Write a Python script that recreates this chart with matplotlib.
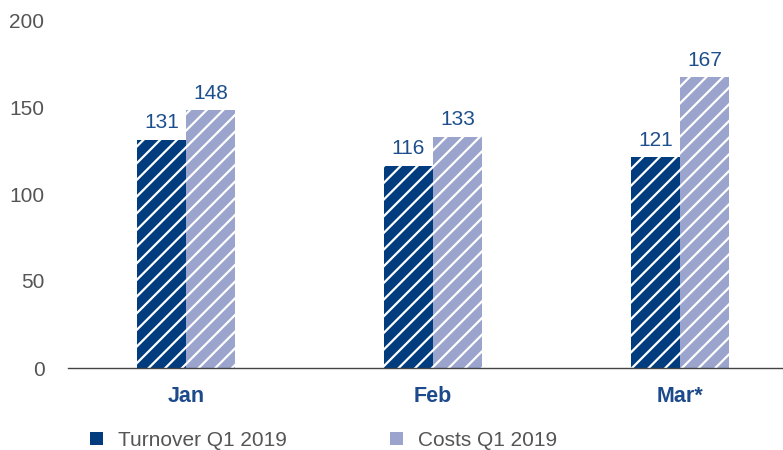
import numpy as np
import matplotlib
matplotlib.use("Agg")
import matplotlib.pyplot as plt
from matplotlib.patches import Patch

months   = ["Jan", "Feb", "Mar*"]
turnover = [131, 116, 121]
costs    = [148, 133, 167]
series_names = ["Turnover Q1 2019", "Costs Q1 2019"]

dark  = "#003c7e"
light = "#9aa4cc"
grey  = "#555555"

plt.rcParams["font.family"] = ["Liberation Sans", "DejaVu Sans"]
plt.rcParams["hatch.linewidth"] = 1.6
plt.rcParams["hatch.color"] = "white"

fig = plt.figure(figsize=(7.83, 4.5), dpi=100)
ax  = fig.add_axes([68/783., (450-368)/450., 1-68/783., (368-20)/450.])

x = np.arange(len(months))
w = 0.2

b1 = ax.bar(x - w/2, turnover, w, color=dark, hatch="//", edgecolor="white", linewidth=0)
b2 = ax.bar(x + w/2, costs, w, color=light, hatch="//", edgecolor="white", linewidth=0)

for bars, vals in ((b1, turnover), (b2, costs)):
	for r, v in zip(bars, vals):
		ax.text(r.get_x() + r.get_width()/2, v + 4.5, str(v), ha="center", va="bottom",
				fontsize=15, color="#1d4f8c")

ax.set_xlim(-0.478, 2.417)
ax.set_ylim(0, 200)
ax.set_yticks([0, 50, 100, 150, 200])
ax.set_xticks(x)
ax.set_xticklabels(months, fontsize=15.5, fontweight="bold", color="#1d4a8a")
ax.tick_params(axis="y", length=0, labelsize=15, labelcolor=grey, pad=17)
ax.tick_params(axis="x", length=0, pad=13)
for s in ["top", "right", "left"]:
	ax.spines[s].set_visible(False)
ax.spines["bottom"].set_color("#444444")
ax.spines["bottom"].set_linewidth(1)

handles = [Patch(facecolor=dark), Patch(facecolor=light)]
fig.legend(handles, series_names, loc="center left", bbox_to_anchor=(0.091, 0.022),
		   ncol=2, frameon=False, fontsize=15, labelcolor=grey, handlelength=0.62,
		   handleheight=0.62, handletextpad=0.72, columnspacing=4.95)

fig.savefig("out.png", dpi=100)
